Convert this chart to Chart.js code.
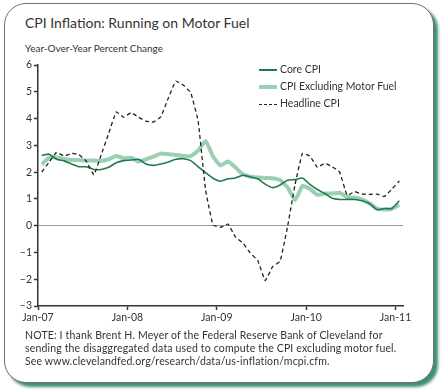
<!DOCTYPE html>
<html>
<head>
<meta charset="utf-8">
<script src="https://cdn.jsdelivr.net/npm/chart.js@4/dist/chart.umd.min.js"></script>
<style>
  body { margin: 0; background: #fff; width: 444px; height: 391px; overflow: hidden; font-family: Lato, "DejaVu Sans", sans-serif; color: #333; }
  #card { position: absolute; left: 4px; top: 3px; width: 428px; height: 378px; border: 1.5px solid #707070; border-radius: 22px;
          box-shadow: 4px 4px 3px #3d8f76; background: #fff; }
  #title { position: absolute; left: 25px; top: 14px; font-size: 14px; white-space: nowrap; }
  #sub { position: absolute; left: 25px; top: 42px; font-size: 10px; white-space: nowrap; }
  #legend { position: absolute; left: 259px; top: 62px; font-size: 10.5px; }
  #legend div { height: 17px; line-height: 14px; white-space: nowrap; }
  #legend span.s { display: inline-block; width: 18px; vertical-align: middle; margin-right: 3px; }
  #note { position: absolute; left: 25px; top: 329px; font-size: 10.5px; line-height: 13px; letter-spacing: 0.16px; white-space: nowrap; }
  #wrap { position: absolute; left: 0; top: 55px; width: 420px; height: 280px; }
</style>
</head>
<body>
<div id="card"></div>
<div id="title">CPI Inflation: Running on Motor Fuel</div>
<div id="sub">Year-Over-Year Percent Change</div>
<div id="wrap"><canvas id="chart" width="420" height="280"></canvas></div>
<div id="legend">
  <div><span class="s" style="border-top: 2px solid #1e7b4e;"></span>Core CPI</div>
  <div><span class="s" style="border-top: 4px solid #9bcfb4;"></span>CPI Excluding Motor Fuel</div>
  <div><span class="s" style="border-top: 1.5px dashed #222;"></span>Headline CPI</div>
</div>
<div id="note">NOTE: I thank Brent H. Meyer of the Federal Reserve Bank of Cleveland for<br>sending the disaggregated data used to compute the CPI excluding motor fuel.<br>See www.clevelandfed.org/research/data/us-inflation/mcpi.cfm.</div>
<script>
// monthly, Jan-07 .. Jan-11
const tickLabels = ['Jan-07', 'Jan-08', 'Jan-09', 'Jan-10', 'Jan-11'];

const coreCPI = [
  2.62, 2.67, 2.48, 2.42, 2.30, 2.20, 2.20, 2.10, 2.10, 2.18, 2.35, 2.43,
  2.45, 2.48, 2.30, 2.25, 2.30, 2.38, 2.48, 2.50, 2.43, 2.20, 1.98, 1.77,
  1.66, 1.75, 1.78, 1.88, 1.82, 1.75, 1.55, 1.42, 1.52, 1.70, 1.72, 1.78,
  1.54, 1.35, 1.20, 1.02, 0.98, 0.98, 0.98, 0.93, 0.83, 0.60, 0.64, 0.64,
  0.93
];

const exMotorFuel = [
  2.29, 2.54, 2.55, 2.49, 2.45, 2.45, 2.43, 2.43, 2.42, 2.48, 2.60, 2.52,
  2.54, 2.40, 2.48, 2.58, 2.69, 2.67, 2.64, 2.60, 2.60, 2.80, 3.16, 2.58,
  2.25, 2.40, 2.18, 1.92, 1.83, 1.80, 1.78, 1.77, 1.70, 1.43, 0.96, 1.48,
  1.38, 1.15, 1.20, 1.20, 1.23, 1.07, 1.05, 0.98, 0.83, 0.64, 0.60, 0.63,
  0.77
];

const headlineCPI = [
  2.00, 2.38, 2.74, 2.60, 2.70, 2.65, 2.40, 1.90, 2.66, 3.45, 4.25, 4.05,
  4.22, 4.05, 3.90, 3.87, 4.07, 4.77, 5.40, 5.25, 4.97, 3.90, 1.33, 0.02,
  -0.06, 0.06, -0.42, -0.65, -1.02, -1.30, -2.05, -1.53, -1.33, -0.04, 1.52, 2.70,
  2.60, 2.18, 2.33, 2.20, 2.00, 1.13, 1.27, 1.18, 1.17, 1.18, 1.09, 1.36,
  1.67
];

// points sit mid-month
const toXY = arr => arr.map((v, i) => ({ x: i + 0.5, y: v }));

new Chart(document.getElementById('chart'), {
  type: 'line',
  data: {
    datasets: [
      { label: 'Headline CPI', data: toXY(headlineCPI), borderColor: '#222', borderWidth: 1.3,
        borderDash: [4, 3], pointRadius: 0, tension: 0.1, order: 0 },
      { label: 'Core CPI', data: toXY(coreCPI), borderColor: '#1e7b4e', borderWidth: 1.6,
        pointRadius: 0, tension: 0.2, order: 1 },
      { label: 'CPI Excluding Motor Fuel', data: toXY(exMotorFuel), borderColor: '#9bcfb4', borderWidth: 4,
        pointRadius: 0, tension: 0.15, order: 2 }
    ]
  },
  options: {
    responsive: false,
    animation: false,
    layout: { padding: { top: 10, right: 17, bottom: 0, left: 0 } },
    plugins: { legend: { display: false }, tooltip: { enabled: false } },
    scales: {
      x: {
        type: 'linear', min: 0, max: 49,
        afterFit: s => { s.height = 29; },
        afterBuildTicks: s => { s.ticks = tickLabels.map((t, i) => ({ value: i * 12 })); },
        ticks: { callback: (v) => tickLabels[v / 12], color: '#333', font: { family: 'Lato', size: 10.5 },
                 padding: 1, maxRotation: 0, autoSkip: false },
        grid: { drawOnChartArea: false, tickColor: '#333', tickLength: 4, tickWidth: 1.5 },
        border: { color: '#333', width: 1.5 }
      },
      y: {
        min: -3, max: 6,
        afterFit: s => { s.width = 38; },
        ticks: { stepSize: 1, color: '#333', font: { family: 'Lato', size: 10.5 }, padding: 2,
                 callback: v => v < 0 ? '\u2013' + Math.abs(v) : v },
        grid: { color: c => c.tick && c.tick.value === 0 ? '#999' : 'transparent', lineWidth: 1,
                tickColor: '#333', tickLength: 4, tickWidth: 1.5 },
        border: { color: '#333', width: 1.5 }
      }
    }
  }
});
</script>
</body>
</html>
